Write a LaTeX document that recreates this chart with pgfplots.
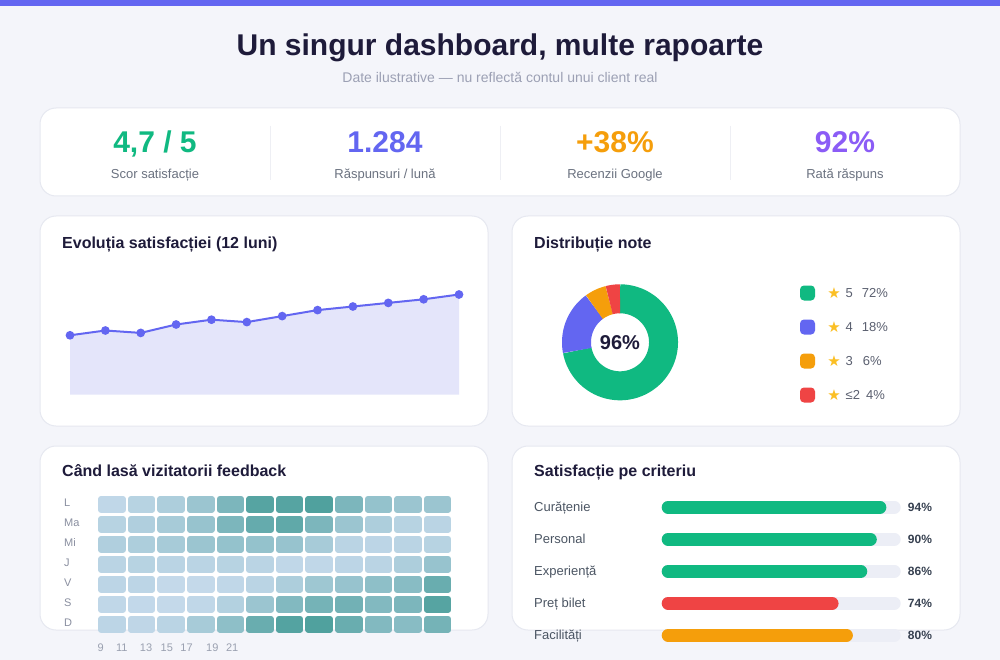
\documentclass[border=0pt]{standalone}
\usepackage{pgfplots}
\pgfplotsset{compat=1.18}
\usepackage{pgfplotstable}
\usepackage{fontspec}
\setmainfont{Liberation Sans}
\newfontfamily\dejavu{DejaVu Sans}
\definecolor{bg}{HTML}{F4F5FA}
\definecolor{indigo}{HTML}{6366F1}
\definecolor{dark}{HTML}{1E1B3A}
\definecolor{subgray}{HTML}{9CA0B4}
\definecolor{kpigray}{HTML}{6B7280}
\definecolor{cardborder}{HTML}{E6E8F0}
\definecolor{divider}{HTML}{EEEFF4}
\definecolor{cgreen}{HTML}{10B981}
\definecolor{corange}{HTML}{F59E0B}
\definecolor{cpurple}{HTML}{8B5CF6}
\definecolor{cred}{HTML}{EF4444}
\definecolor{cstar}{HTML}{FBBF24}
\definecolor{track}{HTML}{ECEEF6}
\definecolor{areafill}{HTML}{E4E5FA}
\definecolor{labelgray}{HTML}{4B5563}
\definecolor{leggray}{HTML}{5B6070}
\definecolor{heatlab}{HTML}{8A8FA0}
\definecolor{hourlab}{HTML}{9AA0B0}
\definecolor{pctdark}{HTML}{374151}
\newcommand\fs[1]{\fontsize{#1}{#1}\selectfont}

% rounded heat cell: inner rectangle filled and stroked with a 6pt round-joined line
\pgfdeclareplotmark{cell}{%
  \pgfsetlinewidth{6pt}%
  \pgfsetroundjoin
  \pgfpathrectanglecorners{\pgfpoint{-10.8pt}{-5.35pt}}{\pgfpoint{10.8pt}{5.35pt}}%
  \pgfusepathqfillstroke}

% heatmap: x = hour column, y = day row (0=L ... 6=D), v = intensity
\pgfplotstableread{
x y v
0 0 0.05
1 0 0.12
2 0 0.20
3 0 0.35
4 0 0.60
5 0 0.90
6 0 0.90
7 0 0.95
8 0 0.60
9 0 0.40
10 0 0.35
11 0 0.35
0 1 0.12
1 1 0.18
2 1 0.25
3 1 0.38
4 1 0.60
5 1 0.78
6 1 0.82
7 1 0.60
8 1 0.35
9 1 0.20
10 1 0.12
11 1 0.10
0 2 0.18
1 2 0.20
2 2 0.25
3 2 0.35
4 2 0.40
5 2 0.40
6 2 0.38
7 2 0.25
8 2 0.10
9 2 0.08
10 2 0.10
11 2 0.12
0 3 0.10
1 3 0.12
2 3 0.10
3 3 0.10
4 3 0.12
5 3 0.10
6 3 0.05
7 3 0.05
8 3 0.08
9 3 0.10
10 3 0.20
11 3 0.38
0 4 0.08
1 4 0.08
2 4 0.02
3 4 0.02
4 4 0.05
5 4 0.10
6 4 0.20
7 4 0.32
8 4 0.38
9 4 0.45
10 4 0.50
11 4 0.75
0 5 0.05
1 5 0.03
2 5 0.02
3 5 0.05
4 5 0.15
5 5 0.35
6 5 0.55
7 5 0.65
8 5 0.68
9 5 0.55
10 5 0.60
11 5 0.90
0 6 0.08
1 6 0.06
2 6 0.10
3 6 0.25
4 6 0.45
5 6 0.75
6 6 0.92
7 6 0.95
8 6 0.75
9 6 0.55
10 6 0.50
11 6 0.65
}\heat

\begin{document}
\begin{tikzpicture}
\useasboundingbox (0pt,0pt) rectangle (1000pt,-660pt);
\fill[bg] (0pt,0pt) rectangle (1000pt,-660pt);
\fill[indigo] (0pt,0pt) rectangle (1000pt,-6pt);

% titles
\node[anchor=base, inner sep=0pt, text=dark] at (500pt,-56pt) {\fs{30}\bfseries Un singur dashboard, multe rapoarte};
\node[anchor=base, inner sep=0pt, text=subgray] at (500pt,-82.5pt) {\fs{14}Date ilustrative — nu reflectă contul unui client real};

% cards
\tikzset{card/.style={rounded corners=16pt, fill=white, draw=cardborder, line width=1pt}}
\draw[card] (40pt,-108pt) rectangle (960pt,-196pt);
\draw[card] (40pt,-216pt) rectangle (488pt,-426pt);
\draw[card] (512pt,-216pt) rectangle (960pt,-426pt);
\draw[card] (40pt,-446pt) rectangle (488pt,-630pt);
\draw[card] (512pt,-446pt) rectangle (960pt,-630pt);

% KPI
\draw[divider, line width=1pt] (270pt,-126pt) -- (270pt,-180pt);
\draw[divider, line width=1pt] (500pt,-126pt) -- (500pt,-180pt);
\draw[divider, line width=1pt] (730pt,-126pt) -- (730pt,-180pt);
\node[anchor=base, inner sep=0pt, text=cgreen] at (155pt,-153pt) {\fs{30}\bfseries 4,7 / 5};
\node[anchor=base, inner sep=0pt, text=indigo] at (385pt,-153pt) {\fs{30}\bfseries 1.284};
\node[anchor=base, inner sep=0pt, text=corange] at (615pt,-153pt) {\fs{30}\bfseries +38\%};
\node[anchor=base, inner sep=0pt, text=cpurple] at (845pt,-153pt) {\fs{30}\bfseries 92\%};
\node[anchor=base, inner sep=0pt, text=kpigray] at (155pt,-178.5pt) {\fs{13}Scor satisfacție};
\node[anchor=base, inner sep=0pt, text=kpigray] at (385pt,-178.5pt) {\fs{13}Răspunsuri / lună};
\node[anchor=base, inner sep=0pt, text=kpigray] at (615pt,-178.5pt) {\fs{13}Recenzii Google};
\node[anchor=base, inner sep=0pt, text=kpigray] at (845pt,-178.5pt) {\fs{13}Rată răspuns};

% card titles
\node[anchor=base west, inner sep=0pt, text=dark] at (62pt,-248.5pt) {\fs{16}\bfseries Evoluția satisfacției (12 luni)};
\node[anchor=base west, inner sep=0pt, text=dark] at (534pt,-248.5pt) {\fs{16}\bfseries Distribuție note};
\node[anchor=base west, inner sep=0pt, text=dark] at (62pt,-476.5pt) {\fs{16}\bfseries Când lasă vizitatorii feedback};
\node[anchor=base west, inner sep=0pt, text=dark] at (534pt,-476.5pt) {\fs{16}\bfseries Satisfacție pe criteriu};

% line chart
\begin{axis}[at={(70pt,-394.7pt)}, anchor=south west, scale only axis,
  width=389pt, height=120pt, xmin=0, xmax=11, ymin=3.905, ymax=4.905,
  hide axis, clip mode=individual]
\addplot[fill=areafill, draw=none] coordinates {(0,4.40)(1,4.44)(2,4.42)(3,4.49)(4,4.53)(5,4.51)(6,4.56)(7,4.61)(8,4.64)(9,4.67)(10,4.70)(11,4.74)} \closedcycle;
\addplot[indigo, line width=2pt, mark=*, mark size=3.3pt, mark options={fill=indigo, draw=indigo}] coordinates {(0,4.40)(1,4.44)(2,4.42)(3,4.49)(4,4.53)(5,4.51)(6,4.56)(7,4.61)(8,4.64)(9,4.67)(10,4.70)(11,4.74)};
\end{axis}

% donut: shares 72, 18, 6, 4 (percent), clockwise from top
\begin{axis}[at={(620pt,-342.3pt)}, anchor=center, x=1pt, y=1pt,
  xmin=-60, xmax=60, ymin=-60, ymax=60, hide axis, clip=false]
\addplot[cgreen, line width=29pt, samples=120, domain={90-3.6*72}:{90-3.6*0}] ({43.5*cos(x)},{43.5*sin(x)});
\addplot[indigo, line width=29pt, samples=40, domain={90-3.6*90}:{90-3.6*72}] ({43.5*cos(x)},{43.5*sin(x)});
\addplot[corange, line width=29pt, samples=20, domain={90-3.6*96}:{90-3.6*90}] ({43.5*cos(x)},{43.5*sin(x)});
\addplot[cred, line width=29pt, samples=20, domain={90-3.6*100}:{90-3.6*96}] ({43.5*cos(x)},{43.5*sin(x)});
\node[text=dark, inner sep=0pt] at (axis cs:0,0) {\fs{20}\bfseries 96\%};
\end{axis}

% donut legend
\fill[cgreen, rounded corners=4pt] (800pt,-285.5pt) rectangle (815pt,-300.5pt);
\fill[indigo, rounded corners=4pt] (800pt,-319.5pt) rectangle (815pt,-334.5pt);
\fill[corange, rounded corners=4pt] (800pt,-353.5pt) rectangle (815pt,-368.5pt);
\fill[cred, rounded corners=4pt] (800pt,-387.5pt) rectangle (815pt,-402.5pt);
\node[text=cstar, inner sep=0pt] at (834pt,-293pt) {\dejavu\fs{15}★};
\node[text=cstar, inner sep=0pt] at (834pt,-327pt) {\dejavu\fs{15}★};
\node[text=cstar, inner sep=0pt] at (834pt,-361pt) {\dejavu\fs{15}★};
\node[text=cstar, inner sep=0pt] at (834pt,-395pt) {\dejavu\fs{15}★};
\node[anchor=base west, inner sep=0pt, text=leggray] at (845.5pt,-297.7pt) {\fs{13}5\hspace{9pt}72\%};
\node[anchor=base west, inner sep=0pt, text=leggray] at (845.5pt,-331.7pt) {\fs{13}4\hspace{9pt}18\%};
\node[anchor=base west, inner sep=0pt, text=leggray] at (845.5pt,-365.7pt) {\fs{13}3\hspace{10pt}6\%};
\node[anchor=base west, inner sep=0pt, text=leggray] at (845.5pt,-399.7pt) {\fs{13}≤2\hspace{6pt}4\%};

% heatmap
\begin{axis}[at={(97.2pt,-494.3pt)}, anchor=north west, scale only axis,
  width=355.2pt, height=140pt, xmin=-0.5, xmax=11.5, ymin=-0.5, ymax=6.5,
  y dir=reverse, axis line style={draw=none}, tick style={draw=none},
  major tick length=0pt,
  ytick={0,...,6}, yticklabels={L,Ma,Mi,J,V,S,D},
  yticklabel style={anchor=west, xshift=-33.2pt, inner sep=0pt, text=heatlab, font=\fs{11}, yshift=2pt},
  xtick={-0.38,0.33,1.15,1.85,2.52,3.39,4.06}, xticklabels={9,11,13,15,17,19,21},
  xticklabel style={anchor=north, inner sep=0pt, yshift=-9.5pt, text=hourlab, font=\fs{11}},
  colormap={heat}{rgb255=(198,218,236) rgb255=(136,188,196) rgb255=(74,158,154)},
  point meta min=0, point meta max=1, clip=false]
\addplot[scatter, only marks, mark=cell, point meta=explicit,
  scatter/use mapped color={draw=mapped color, fill=mapped color}] table[x=x, y=y, meta=v] {\heat};
\end{axis}

% criteria bars (pill-shaped: round caps, shortened by half the thickness)
\begin{axis}[at={(661.7pt,-491.3pt)}, anchor=north west, scale only axis,
  width=239pt, height=160pt, xmin=0, xmax=100, ymin=-0.5, ymax=4.5,
  y dir=reverse, axis line style={draw=none}, tick style={draw=none},
  major tick length=0pt, xtick=\empty,
  ytick={0,...,4}, yticklabels={Curățenie,Personal,Experiență,Preț bilet,Facilități},
  yticklabel style={anchor=base west, xshift=-127.7pt, yshift=-4.6pt, inner sep=0pt, text=labelgray, font=\fs{13}},
  clip=false,
  pill/.style={line width=12.7pt, line cap=round, shorten <=6.35pt, shorten >=6.35pt, no marks}]
\addplot[pill, track] coordinates {(0,0)(100,0)};
\addplot[pill, track] coordinates {(0,1)(100,1)};
\addplot[pill, track] coordinates {(0,2)(100,2)};
\addplot[pill, track] coordinates {(0,3)(100,3)};
\addplot[pill, track] coordinates {(0,4)(100,4)};
\addplot[pill, cgreen] coordinates {(0,0)(94,0)};
\addplot[pill, cgreen] coordinates {(0,1)(90,1)};
\addplot[pill, cgreen] coordinates {(0,2)(86,2)};
\addplot[pill, cred] coordinates {(0,3)(74,3)};
\addplot[pill, corange] coordinates {(0,4)(80,4)};
\node[anchor=base west, inner sep=0pt, text=pctdark, xshift=7pt, yshift=-4.3pt] at (axis cs:100,0) {\fs{12}\bfseries 94\%};
\node[anchor=base west, inner sep=0pt, text=pctdark, xshift=7pt, yshift=-4.3pt] at (axis cs:100,1) {\fs{12}\bfseries 90\%};
\node[anchor=base west, inner sep=0pt, text=pctdark, xshift=7pt, yshift=-4.3pt] at (axis cs:100,2) {\fs{12}\bfseries 86\%};
\node[anchor=base west, inner sep=0pt, text=pctdark, xshift=7pt, yshift=-4.3pt] at (axis cs:100,3) {\fs{12}\bfseries 74\%};
\node[anchor=base west, inner sep=0pt, text=pctdark, xshift=7pt, yshift=-4.3pt] at (axis cs:100,4) {\fs{12}\bfseries 80\%};
\end{axis}
\end{tikzpicture}
\end{document}
